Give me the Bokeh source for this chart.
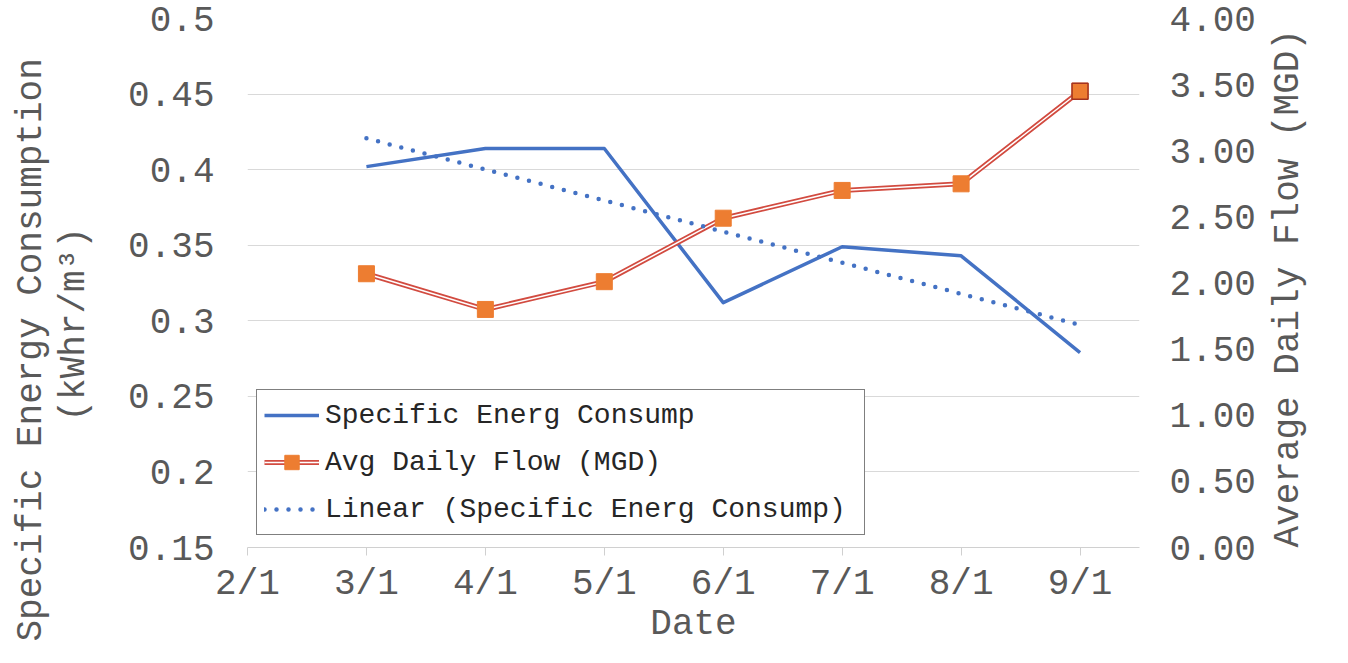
import math
import numpy as np
from bokeh.plotting import figure
from bokeh.models import (Range1d, LinearAxis, FixedTicker, NumeralTickFormatter,
                          Legend, LegendItem, Title)
from bokeh.embed import file_html
from bokeh.resources import INLINE

# ---------------- data ----------------
date_labels = ["2/1", "3/1", "4/1", "5/1", "6/1", "7/1", "8/1", "9/1"]
series_dates = ["3/1", "4/1", "5/1", "6/1", "7/1", "8/1", "9/1"]
energy = [0.402, 0.414, 0.414, 0.312, 0.349, 0.343, 0.279]   # kWhr/m3
flow = [2.07, 1.80, 2.01, 2.49, 2.70, 2.75, 3.45]            # MGD
left_ticks = [0.15, 0.2, 0.25, 0.3, 0.35, 0.4, 0.45, 0.5]
left_tick_labels = ["0.15", "0.2", "0.25", "0.3", "0.35", "0.4", "0.45", "0.5"]
right_ticks = [0.0, 0.5, 1.0, 1.5, 2.0, 2.5, 3.0, 3.5, 4.0]
left_title = ["Specific Energy Consumption", "(kWhr/m\u00b3)"]
right_title = "Average Daily Flow (MGD)"
x_title = "Date"

xs = [date_labels.index(d) for d in series_dates]
coef = np.polyfit(xs, energy, 1)
trend = list(np.polyval(coef, xs))

FONT = "Liberation Mono"
AX_COL = "#595959"

p = figure(width=1332, height=647, x_range=Range1d(0, 7.5), y_range=Range1d(0.15, 0.5),
           output_backend="svg", toolbar_location=None,
           min_border_left=247, min_border_right=192, min_border_top=18, min_border_bottom=99)
p.outline_line_color = None
p.background_fill_color = "white"
p.border_fill_color = "white"
p.extra_y_ranges = {"flow": Range1d(0, 4)}

# grid
p.xgrid.visible = False
p.ygrid.ticker = FixedTicker(ticks=left_ticks)
p.ygrid.grid_line_color = "#D9D9D9"
p.ygrid.grid_line_width = 1

# x axis
xa = p.xaxis[0]
xa.ticker = FixedTicker(ticks=list(range(len(date_labels))))
xa.major_label_overrides = {i: lab for i, lab in enumerate(date_labels)}
xa.axis_line_color = "#D0D0D0"
xa.major_tick_line_color = "#D0D0D0"
xa.major_tick_in = 0
xa.major_tick_out = 8
xa.minor_tick_line_color = None
xa.major_label_standoff = 8
xa.axis_label = x_title
xa.axis_label_standoff = -4

# left axis
ya = p.yaxis[0]
ya.ticker = FixedTicker(ticks=left_ticks)
ya.major_label_overrides = {t: l for t, l in zip(left_ticks, left_tick_labels)}
ya.axis_line_color = None
ya.major_tick_line_color = None
ya.minor_tick_line_color = None
ya.major_tick_out = 0
ya.major_tick_in = 0
ya.major_label_standoff = 33

# right axis
ra = LinearAxis(y_range_name="flow", ticker=FixedTicker(ticks=right_ticks),
                formatter=NumeralTickFormatter(format="0.00"))
ra.axis_line_color = None
ra.major_tick_line_color = None
ra.minor_tick_line_color = None
ra.major_tick_out = 0
ra.major_tick_in = 0
ra.major_label_standoff = 30
ra.axis_label = right_title
ra.axis_label_standoff = 30
ra.axis_label_orientation = math.pi / 2
ra.axis_label_align = "start"
p.add_layout(ra, "right")

for ax in (xa, ya, ra):
    ax.major_label_text_font = FONT
    ax.major_label_text_font_size = "36px"
    ax.major_label_text_color = AX_COL
    ax.axis_label_text_font = FONT
    ax.axis_label_text_font_size = "36px"
    ax.axis_label_text_font_style = "normal"
    ax.axis_label_text_color = AX_COL

# spacer between the left tick labels and the left axis title
ya.axis_label = "\u00a0"
ya.axis_label_text_font_size = "2px"
ya.axis_label_standoff = 24

# left axis title: two lines, as side-panel titles
t2 = Title(text=left_title[1], align="left", offset=126, vertical_align="middle", standoff=0)
t1 = Title(text=left_title[0], align="left", offset=-94, vertical_align="middle", standoff=0)
for t in (t2, t1):
    t.text_font = FONT
    t.text_font_size = "36px"
    t.text_font_style = "normal"
    t.text_color = AX_COL
p.add_layout(t2, "left")
p.add_layout(t1, "left")

# series
blue = p.line(xs, energy, line_color="#4472C4", line_width=3.5, line_join="round")
red_outer = p.line(xs, flow, y_range_name="flow", line_color="#D24B40", line_width=5)
white_inner = p.line(xs, flow, y_range_name="flow", line_color="white", line_width=1.5)
marks = p.scatter(xs, flow, y_range_name="flow", marker="square", size=16,
                  fill_color="#ED7D31", line_color="#ED7D31", line_width=1)
p.scatter(xs[-1:], flow[-1:], y_range_name="flow", marker="square", size=16,
          fill_color="#ED7D31", line_color="#A3321F", line_width=1.5)
trend_r = p.line(xs, trend, line_color="#4472C4", line_width=4.5,
                 line_dash="0 12", line_cap="round")

legend = Legend(items=[
    LegendItem(label="Specific Energ Consump", renderers=[blue]),
    LegendItem(label="Avg Daily Flow (MGD)", renderers=[red_outer, white_inner, marks]),
    LegendItem(label="Linear (Specific Energ Consump)", renderers=[trend_r]),
], location=(9, 12))
legend.border_line_color = "black"
legend.border_line_width = 1.5
legend.background_fill_alpha = 1
legend.label_text_font = FONT
legend.label_text_font_size = "28px"
legend.label_text_color = "#262626"
legend.glyph_width = 55
legend.glyph_height = 36
legend.label_standoff = 6
legend.label_width = 532
legend.spacing = 11
legend.padding = 7
legend.margin = 0
p.add_layout(legend)

open("out.html", "w").write(file_html(p, INLINE))
